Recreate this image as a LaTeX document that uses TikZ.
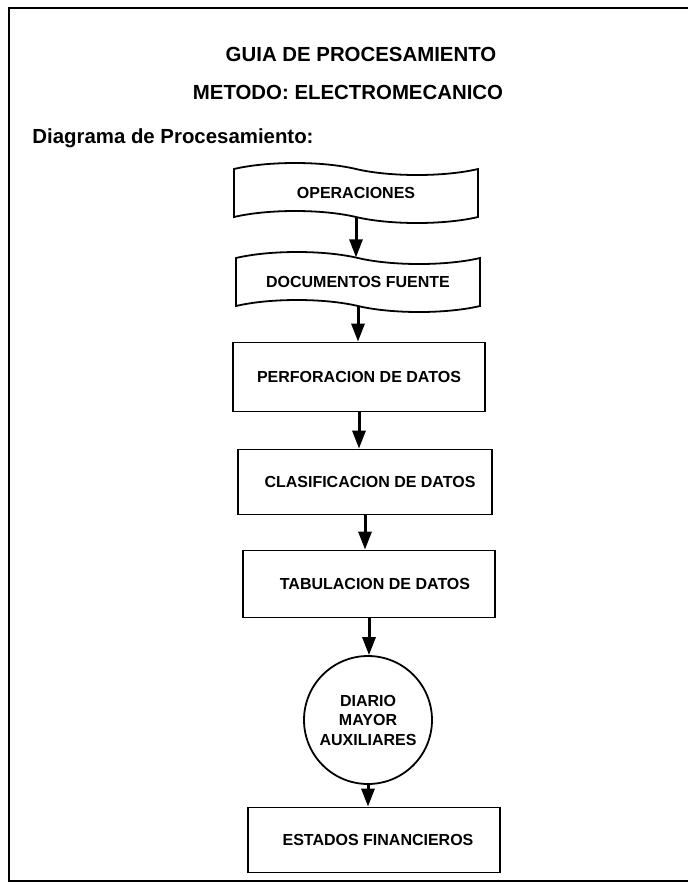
\documentclass[tikz,border=0pt]{standalone}
\usepackage{fontspec}
\setmainfont{Liberation Sans}
\usetikzlibrary{shapes.symbols,arrows.meta}

\begin{document}
\begin{tikzpicture}%
	[x=0.5pt,
	y=-0.5pt,
	frame/.style={color=black, line width=1pt},
	heading/.style={inner sep=0pt, font=\bfseries\fontsize{10.2}{12}\selectfont},
	tapebox/.style={tape, draw=black, line width=0.9pt, tape bend top=out and in, tape bend bottom=out and in, tape bend height=6pt, minimum width=122pt, minimum height=30pt, font=\bfseries\fontsize{8}{9.75}\selectfont},
	procbox/.style={rectangle, draw=black, line width=0.9pt, minimum width=126pt, font=\bfseries\fontsize{8}{9.75}\selectfont},
	ledger/.style={circle, draw=black, line width=0.9pt, minimum size=64pt, inner sep=0pt, align=center, font=\bfseries\fontsize{8}{9.75}\selectfont},
	flow/.style={line width=1.5pt, -{Triangle[length=9pt,width=6.5pt]}}]
%
\useasboundingbox (0,0) rectangle (688,885);
%%
%% Drawing the frame (open at the right)
%%
\draw[frame] (688,8) -- (9,8) -- (9,881) -- (688,881);
%%
%% Headings
%%
\node[heading] (guia) at (361,54) {GUIA DE PROCESAMIENTO};
\node[heading] (metodo) at (348,92) {METODO: ELECTROMECANICO};
\node[heading, anchor=west] (diag) at (32,138) {Diagrama de Procesamiento:};
%%
%% Drawing the boxes
%%
\node[tapebox] (oper) at (356,193) {OPERACIONES};
\node[tapebox] (docs) at (358,282) {DOCUMENTOS FUENTE};
\node[procbox, minimum height=34.5pt] (perf) at (359,377) {PERFORACION DE DATOS};
\node[procbox, minimum height=32.5pt, minimum width=127pt] (clas) at (365,482) {\hspace*{5pt}CLASIFICACION DE DATOS};
\node[procbox, minimum height=33.5pt] (tabu) at (369,584) {\hspace*{6pt}TABULACION DE DATOS};
\node[ledger] (diario) at (368,720) {DIARIO\\MAYOR\\AUXILIARES};
\node[procbox, minimum height=32.5pt] (edos) at (374,840) {\hspace*{4pt}ESTADOS FINANCIEROS};
%%
%% Drawing the arrows
%%
\draw[flow] (oper.south) -- (oper.south |- docs.north);
\draw[flow] (docs.south) -- (docs.south |- perf.north);
\draw[flow] (perf.south) -- (perf.south |- clas.north);
\draw[flow] (clas.south) -- (clas.south |- tabu.north);
\draw[flow] (tabu.south) -- (tabu.south |- diario.north);
\draw[flow] (diario.south) -- (diario.south |- edos.north);

\end{tikzpicture}
\end{document}
